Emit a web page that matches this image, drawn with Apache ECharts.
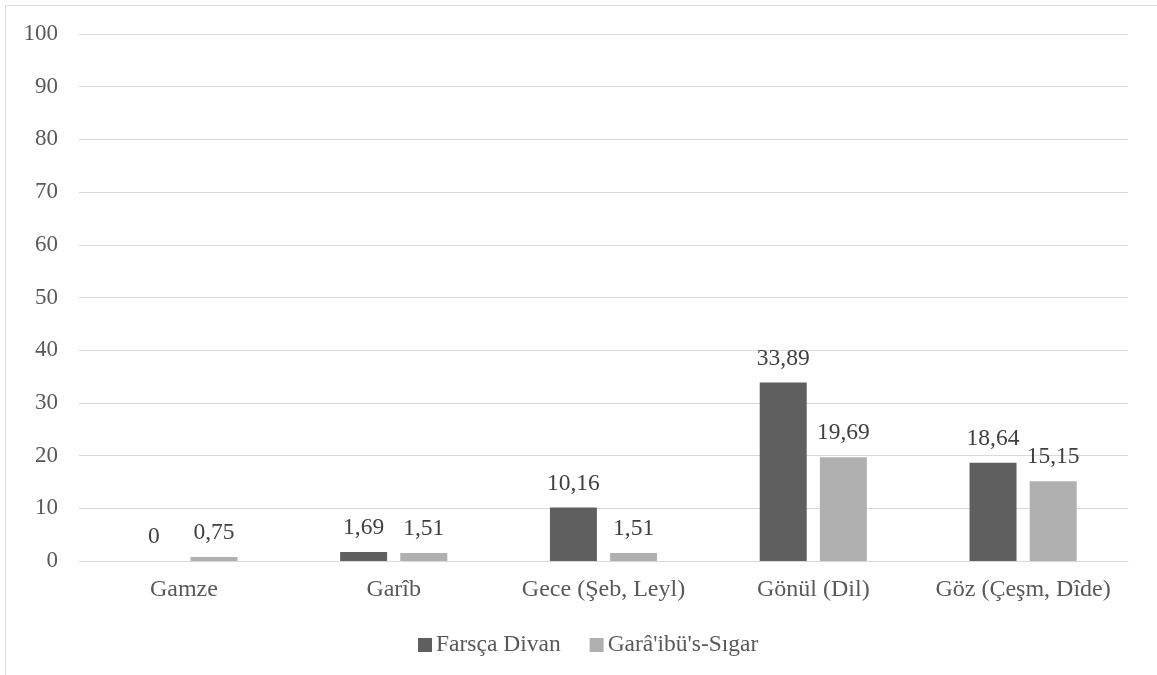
<!DOCTYPE html>
<html><head><meta charset="utf-8">
<script src="https://cdn.jsdelivr.net/npm/echarts@6/dist/echarts.min.js"></script>
<style>html,body{margin:0;padding:0;background:#fff}#c{width:1157px;height:675px}</style>
</head><body><div id="c"></div>
<script>
const categories = ['Gamze', 'Garîb', 'Gece (Şeb, Leyl)', 'Gönül (Dil)', 'Göz (Çeşm, Dîde)'];
const farscaDivan = [0, 1.69, 10.16, 33.89, 18.64];
const garaibusSigar = [0.75, 1.51, 1.51, 19.69, 15.15];
const seriesNames = ['Farsça Divan', "Garâ'ibü's-Sıgar"];

const font = '"Liberation Serif", "DejaVu Serif", serif';
const fmt = p => String(p.value).replace('.', ',');
const chart = echarts.init(document.getElementById('c'));
chart.setOption({
  animation: false,
  textStyle: { fontFamily: font },
  graphic: [{ type: 'rect', shape: { x: 5.5, y: 5.5, width: 1160, height: 700 }, style: { fill: 'none', stroke: '#d9d9d9', lineWidth: 1 }, silent: true }],
  grid: { left: 79, right: 29, top: 34, bottom: 114 },
  legend: {
    top: 628, left: 413, itemWidth: 14, itemHeight: 14, itemGap: 29,
    icon: 'rect',
    textStyle: { fontFamily: font, fontSize: 23.5, color: '#595959', padding: [0, 0, 0, -1] },
    data: seriesNames
  },
  xAxis: {
    type: 'category', data: categories,
    axisLine: { lineStyle: { color: '#d9d9d9', width: 1 } },
    axisTick: { show: false },
    axisLabel: { interval: 0, fontFamily: font, fontSize: 24, color: '#595959', margin: 17 }
  },
  yAxis: {
    type: 'value', min: 0, max: 100, interval: 10,
    axisLine: { show: false }, axisTick: { show: false },
    splitLine: { lineStyle: { color: '#d9d9d9', width: 1 } },
    axisLabel: { fontFamily: font, fontSize: 23, color: '#595959', margin: 21 }
  },
  series: [
    { name: seriesNames[0], type: 'bar', data: farscaDivan, barWidth: '22.4%', barGap: '28%',
      itemStyle: { color: '#5f5f5f' },
      label: { show: true, position: 'top', distance: 12, formatter: fmt, fontFamily: font, fontSize: 23.5, color: '#404040' } },
    { name: seriesNames[1], type: 'bar', data: garaibusSigar, barWidth: '22.4%',
      itemStyle: { color: '#b0b0b0' },
      label: { show: true, position: 'top', distance: 12, formatter: fmt, fontFamily: font, fontSize: 23.5, color: '#404040' } }
  ]
});
</script></body></html>
